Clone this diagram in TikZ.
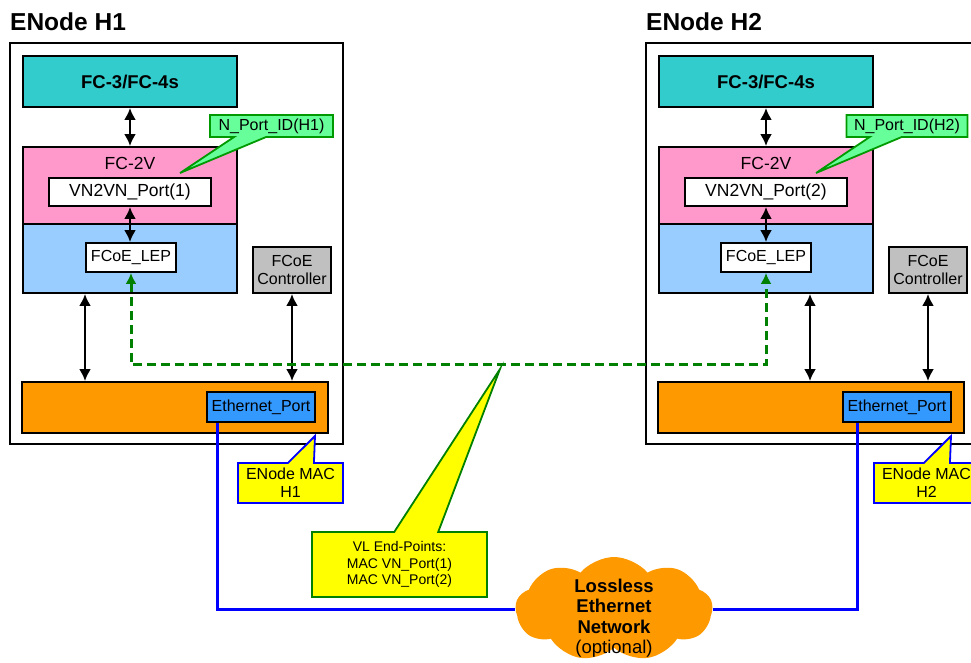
\documentclass[tikz,border=0pt]{standalone}
\usepackage{fontspec}
\setmainfont{Liberation Sans}
\usetikzlibrary{arrows.meta,shapes.callouts,shapes.symbols}
\definecolor{fcteal}{HTML}{33CCCC}
\definecolor{fcpink}{HTML}{FF99CC}
\definecolor{fcoeblue}{HTML}{99CCFF}
\definecolor{ctrlgray}{HTML}{C0C0C0}
\definecolor{macorange}{HTML}{FF9900}
\definecolor{portblue}{HTML}{3399FF}
\definecolor{idgreen}{HTML}{66FF99}
\definecolor{vlgreen}{HTML}{008000}
\definecolor{noteyellow}{HTML}{FFFF00}
\begin{document}
\begin{tikzpicture}[x=1pt, y=-1pt,
  every node/.style={inner sep=0pt, font=\fontsize{16}{18}\selectfont},
  hosttitle/.style={anchor=west, font=\fontsize{24.5}{27}\selectfont\bfseries},
  hostbox/.style={draw, fill=white, line width=1.6pt, minimum width=333pt, minimum height=401pt},
  box/.style={draw, line width=1.8pt, fill=#1},
  lbl/.style={anchor=north, yshift=-11pt, inner sep=0pt, font=\fontsize{17.5}{20}\selectfont},
  callnote/.style 2 args={rectangle callout, draw=#1, fill=#2, line width=1.8pt, align=center},
  cloudtxt/.style={align=center, yshift=-9pt, inner sep=0pt, font=\fontsize{18.5}{20.5}\selectfont},
  biarrow/.style={{Latex[length=12pt,width=12pt]}-{Latex[length=12pt,width=12pt]}, line width=2.8pt},
  vlink/.style={{Latex[length=11pt,width=11pt]}-{Latex[length=11pt,width=11pt]}, draw=vlgreen, line width=3pt, dash pattern=on 9pt off 5pt},
  ethlink/.style={draw=blue, line width=3pt}]
\useasboundingbox (0,0) rectangle (971,662);
\clip (0,0) rectangle (971,662);

\node[hosttitle] (titleA) at (10,22) {ENode H1};
\node[hostbox] (hostA) at (176.5,243.5) {};
\node[box=fcteal, minimum width=214pt, minimum height=51pt, font=\fontsize{18.5}{20}\selectfont\bfseries] (fcA) at (130,81.5) {FC-3/FC-4s};
\node[box=fcpink, minimum width=214pt, minimum height=77pt, label={[lbl]north:FC-2V}] (fctwoA) at (130,185.5) {};
\node[box=white, minimum width=162pt, minimum height=28pt, font=\fontsize{17.5}{20}\selectfont] (vnA) at (130,192) {VN2VN\_Port(1)};
\node[box=fcoeblue, minimum width=214pt, minimum height=69pt] (fcoeA) at (130,258.5) {};
\node[box=white, minimum width=90pt, minimum height=29pt] (lepA) at (131,257.5) {FCoE\_LEP};
\node[box=ctrlgray, minimum width=78pt, minimum height=46pt, align=center] (ctrlA) at (292,270) {FCoE\\Controller};
\node[box=macorange, minimum width=306pt, minimum height=51pt] (macA) at (175,407.5) {};
\node[box=portblue, minimum width=108pt, minimum height=30pt] (ethA) at (261,407) {Ethernet\_Port};
\node[callnote={green!60!black}{idgreen}, minimum width=123pt, minimum height=22pt, callout absolute pointer={(180,173)}, callout pointer width=32pt] (idA) at (271.5,126) {N\_Port\_ID(H1)};
\node[callnote={blue}{noteyellow}, minimum width=105pt, minimum height=40pt, callout absolute pointer={(315,436)}, callout pointer width=26pt] (emacA) at (290.5,483) {ENode MAC\\H1};

\node[hosttitle] (titleB) at (646,22) {ENode H2};
\node[hostbox] (hostB) at (812.5,243.5) {};
\node[box=fcteal, minimum width=214pt, minimum height=51pt, font=\fontsize{18.5}{20}\selectfont\bfseries] (fcB) at (766,81.5) {FC-3/FC-4s};
\node[box=fcpink, minimum width=214pt, minimum height=77pt, label={[lbl]north:FC-2V}] (fctwoB) at (766,185.5) {};
\node[box=white, minimum width=162pt, minimum height=28pt, font=\fontsize{17.5}{20}\selectfont] (vnB) at (766,192) {VN2VN\_Port(2)};
\node[box=fcoeblue, minimum width=214pt, minimum height=69pt] (fcoeB) at (766,258.5) {};
\node[box=white, minimum width=90pt, minimum height=29pt] (lepB) at (766,257.5) {FCoE\_LEP};
\node[box=ctrlgray, minimum width=78pt, minimum height=46pt, align=center] (ctrlB) at (928,270) {FCoE\\Controller};
\node[box=macorange, minimum width=306pt, minimum height=51pt] (macB) at (811,407.5) {};
\node[box=portblue, minimum width=108pt, minimum height=30pt] (ethB) at (897,407) {Ethernet\_Port};
\node[callnote={green!60!black}{idgreen}, minimum width=121pt, minimum height=22pt, callout absolute pointer={(816,173)}, callout pointer width=32pt] (idB) at (907,126) {N\_Port\_ID(H2)};
\node[callnote={blue}{noteyellow}, minimum width=105pt, minimum height=40pt, callout absolute pointer={(951,436)}, callout pointer width=26pt] (emacB) at (926.5,483) {ENode MAC\\H2};

\draw[biarrow] (fcA) -- (fctwoA);
\draw[biarrow] (vnA.south) -- (vnA.south |- lepA.north);
\draw[biarrow] ([xshift=-45pt]fcoeA.south) -- ([xshift=-45pt]fcoeA.south |- macA.north);
\draw[biarrow] (ctrlA.south) -- (ctrlA.south |- macA.north);
\draw[biarrow] (fcB) -- (fctwoB);
\draw[biarrow] (vnB.south) -- (vnB.south |- lepB.north);
\draw[biarrow] ([xshift=44pt]fcoeB.south) -- ([xshift=44pt]fcoeB.south |- macB.north);
\draw[biarrow] (ctrlB.south) -- (ctrlB.south |- macB.north);

\draw[vlink] (lepA.south) -- ++(0,92) -| (lepB.south);
\node[callnote={vlgreen}{noteyellow}, minimum width=175pt, minimum height=65pt, callout absolute pointer={(500,369)}, callout pointer width=44pt, font=\fontsize{14}{16.5}\selectfont] (vlA) at (399.5,564.5) {VL End-Points:\\MAC VN\_Port(1)\\MAC VN\_Port(2)};

\node[cloud, cloud puffs=9, cloud puff arc=100, cloud ignores aspect, fill=macorange, minimum width=197pt, minimum height=104pt, label={[cloudtxt]center:\textbf{Lossless}\\\textbf{Ethernet}\\\textbf{Network}\\(optional)}] (net) at (614,609) {};
\draw[ethlink] ([xshift=11pt]ethA.south west) |- (net.west);
\draw[ethlink] ([xshift=-40pt]ethB.south) |- (net.east);
\end{tikzpicture}
\end{document}
